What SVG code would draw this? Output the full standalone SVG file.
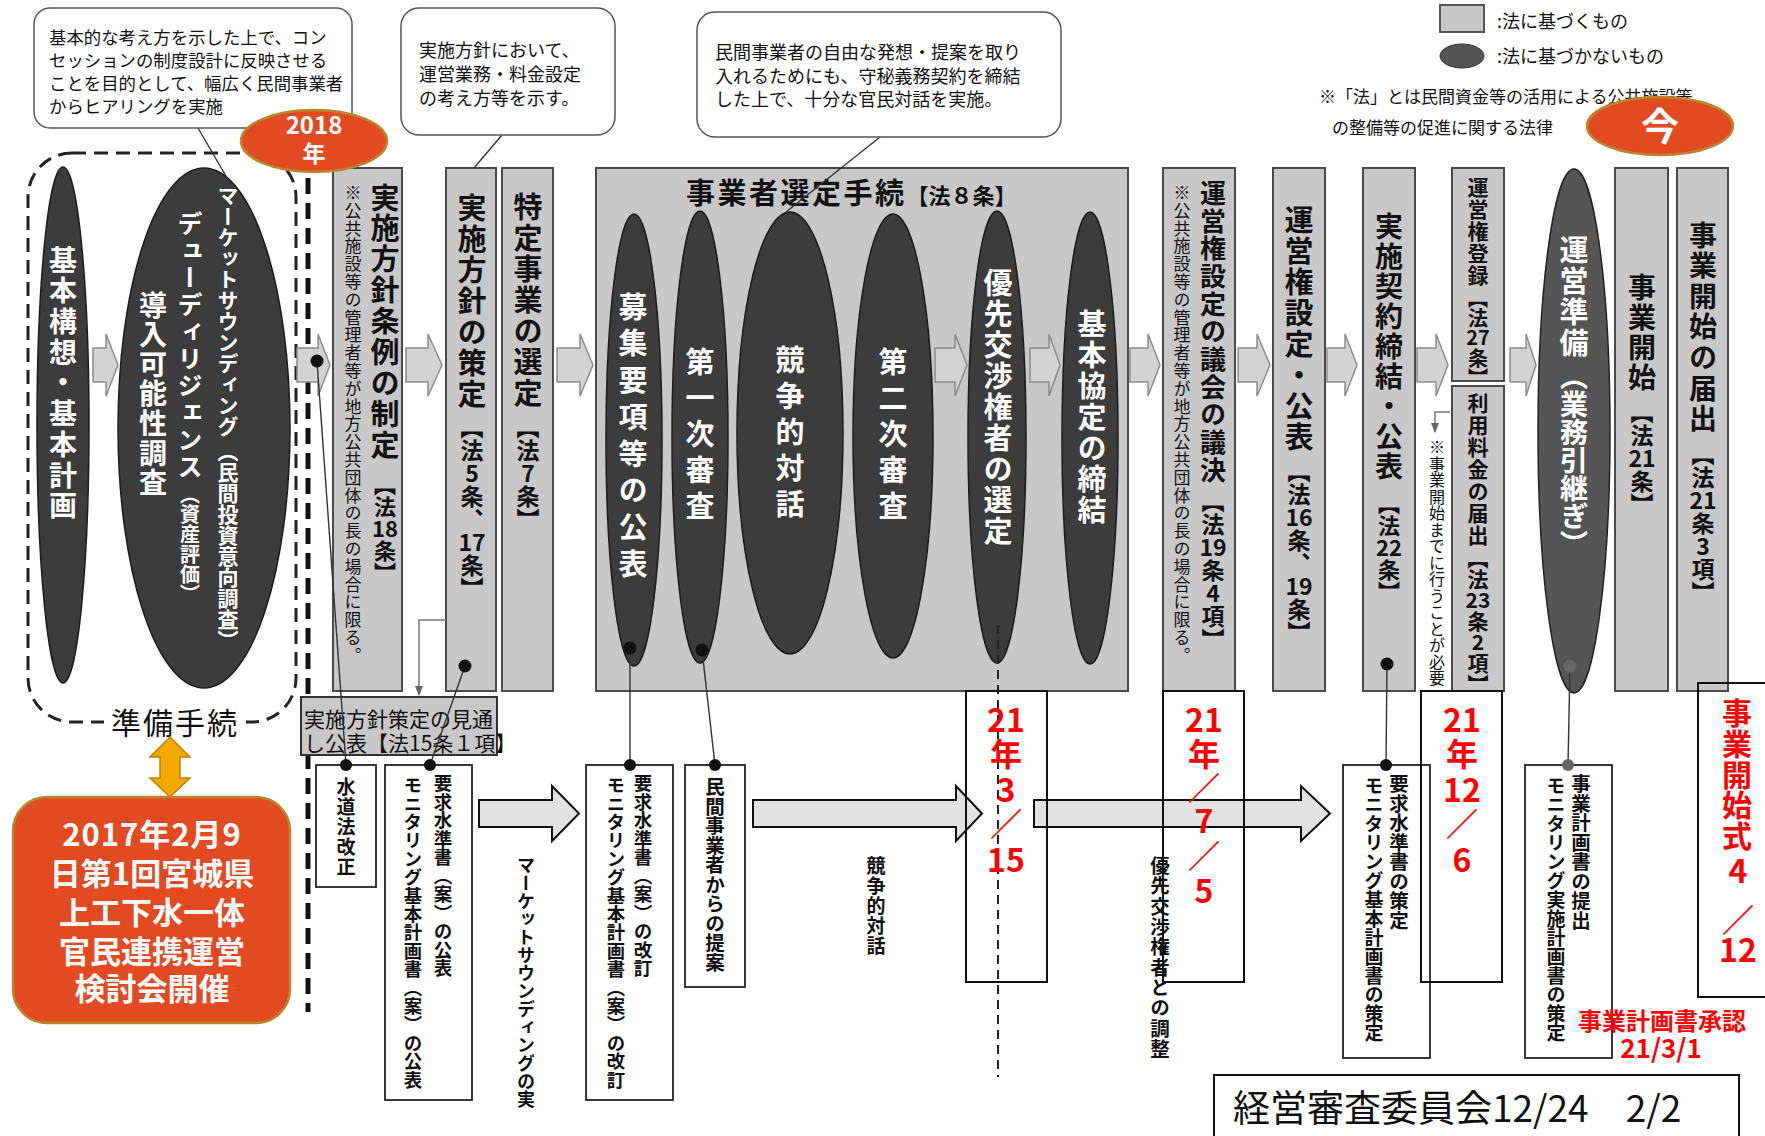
<svg xmlns="http://www.w3.org/2000/svg" width="1765" height="1136" viewBox="0 0 1765 1136">
<defs>
<style>
text{font-family:"Noto Sans CJK JP","Noto Sans",sans-serif;fill:#111}
.v{writing-mode:vertical-rl}
.c{text-anchor:middle}
.b{font-weight:bold}
.w{fill:#fff;font-weight:bold}
.red{fill:#f00;font-weight:bold}
.col{fill:#c8c8c8;stroke:#4a4a4a;stroke-width:2}
.el{fill:#3c3c3c;stroke:#1c1c1c;stroke-width:1.5}
.box{fill:#fff;stroke:#222;stroke-width:1.8}
.dbox{fill:none;stroke:#111;stroke-width:2}
.ar{fill:#d3d3d3;stroke:#8c8c8c;stroke-width:1.5}
.bar{fill:#e2e2e2;stroke:#111;stroke-width:2}
.ln{stroke:#333;stroke-width:1.4;fill:none}
.dot{fill:#111}
.call{fill:#fff;stroke:#555;stroke-width:1.5}
.org{fill:#E24B22;stroke:#B8862E;stroke-width:2.5}
</style>
<marker id="ah" viewBox="0 0 10 10" refX="9" refY="5" markerWidth="7" markerHeight="7" orient="auto"><path d="M0,1 L10,5 L0,9 Z" fill="#666"/></marker>
</defs>
<rect x="0" y="0" width="1765" height="1136" fill="#fff"/>

<!-- preparation group -->
<g id="prep-group">
<rect x="28" y="153" width="268" height="569" rx="44" fill="none" stroke="#222" stroke-width="3" stroke-dasharray="14 8"/>
<line x1="308" y1="153" x2="308" y2="1012" stroke="#111" stroke-width="5" stroke-dasharray="16 9"/>
<rect x="104" y="706" width="142" height="34" fill="#fff"/>
<text class="c" x="175" y="734" font-size="30" letter-spacing="2">準備手続</text>
</g>

<g id="kihon-koso">
<ellipse class="el" cx="63" cy="425" rx="26" ry="258"/>
<text class="v w" x="63" y="246" font-size="28" letter-spacing="2.7">基本構想・基本計画</text>
</g>

<g id="dd-ellipse">
<ellipse class="el" cx="204" cy="428" rx="86" ry="260"/>
<text class="v w" x="153" y="291" font-size="28" letter-spacing="1.6">導入可能性調査</text>
<text class="v w" x="190" y="211" font-size="25" letter-spacing="2">デューディリジェンス</text>
<text class="v w" x="190" y="484" font-size="20">（資産評価）</text>
<text class="v w" x="228" y="185" font-size="21">マーケットサウンディング</text>
<text class="v w" x="228" y="441" font-size="21">（民間投資意向調査）</text>
</g>

<!-- columns -->
<g id="col-jourei">
<rect class="col" x="333" y="168" width="69" height="523"/>
<text class="v b" x="385" y="183" font-size="29" letter-spacing="1.9">実施方針条例の制定</text>
<text class="v b" x="385" y="474" font-size="22">【法</text>
<text class="c b" x="385" y="537" font-size="22">18</text>
<text class="v b" x="385" y="540" font-size="22">条】</text>
<text class="v" x="353" y="184" font-size="17" letter-spacing="0.8">※公共施設等の管理者等が地方公共団体の長の場合に限る。</text>
</g>

<g id="col-houshin">
<rect class="col" x="446" y="168" width="50" height="523"/>
<text class="v b" x="472" y="193" font-size="29" letter-spacing="2">実施方針の策定</text>
<text class="v b" x="472" y="416" font-size="23">【法</text>
<text class="c b" x="472" y="482" font-size="23">5</text>
<text class="v b" x="472" y="485" font-size="23">条、</text>
<text class="c b" x="472" y="551" font-size="23">17</text>
<text class="v b" x="472" y="554" font-size="23">条】</text>
</g>

<g id="col-tokutei">
<rect class="col" x="502" y="168" width="51" height="523"/>
<text class="v b" x="528" y="192" font-size="29" letter-spacing="2">特定事業の選定</text>
<text class="v b" x="528" y="416" font-size="23">【法</text>
<text class="c b" x="528" y="482" font-size="23">7</text>
<text class="v b" x="528" y="485" font-size="23">条】</text>
</g>

<g id="selection">
<rect class="col" x="596" y="168" width="532" height="523"/>
<text class="b" x="686" y="204" font-size="29" letter-spacing="2.5">事業者選定手続<tspan font-size="22" letter-spacing="0">【法８条】</tspan></text>
<g id="boshu">
<ellipse class="el" cx="634" cy="440" rx="28" ry="226"/>
<text class="v w" x="633" y="292" font-size="29" letter-spacing="7.75">募集要項等の公表</text>
</g>
<g id="shinsa1">
<ellipse class="el" cx="700" cy="437" rx="28" ry="226"/>
<text class="v w" x="700" y="347" font-size="29" letter-spacing="7">第一次審査</text>
</g>
<g id="taiwa">
<ellipse class="el" cx="790" cy="433" rx="53" ry="221"/>
<text class="v w" x="790" y="345" font-size="29" letter-spacing="7">競争的対話</text>
</g>
<g id="shinsa2">
<ellipse class="el" cx="893" cy="436" rx="40" ry="222"/>
<text class="v w" x="893" y="347" font-size="29" letter-spacing="7">第二次審査</text>
</g>
<g id="yusen">
<ellipse class="el" cx="997" cy="437" rx="29" ry="226"/>
<text class="v w" x="998" y="268" font-size="29" letter-spacing="2">優先交渉権者の選定</text>
</g>
<g id="kyotei">
<ellipse class="el" cx="1090" cy="438" rx="28" ry="226"/>
<text class="v w" x="1092" y="309" font-size="29" letter-spacing="2">基本協定の締結</text>
</g>
</g>

<g id="col-gikai">
<rect class="col" x="1163" y="168" width="72" height="523"/>
<text class="v b" x="1213" y="180" font-size="26" letter-spacing="1.7">運営権設定の議会の議決</text>
<text class="v b" x="1213" y="490" font-size="23">【法</text>
<text class="c b" x="1213" y="556" font-size="23">19</text>
<text class="v b" x="1213" y="559" font-size="23">条</text>
<text class="c b" x="1213" y="602" font-size="23">4</text>
<text class="v b" x="1213" y="605" font-size="23">項】</text>
<text class="v" x="1182" y="184" font-size="17" letter-spacing="0.8">※公共施設等の管理者等が地方公共団体の長の場合に限る。</text>
</g>

<g id="col-settei">
<rect class="col" x="1273" y="168" width="52" height="523"/>
<text class="v b" x="1299" y="205" font-size="29" letter-spacing="2">運営権設定・公表</text>
<text class="v b" x="1299" y="460" font-size="23">【法</text>
<text class="c b" x="1299" y="526" font-size="23">16</text>
<text class="v b" x="1299" y="529" font-size="23">条、</text>
<text class="c b" x="1299" y="595" font-size="23">19</text>
<text class="v b" x="1299" y="598" font-size="23">条】</text>
</g>

<g id="col-keiyaku">
<rect class="col" x="1363" y="168" width="52" height="523"/>
<text class="v b" x="1389" y="212" font-size="28" letter-spacing="2">実施契約締結・公表</text>
<text class="v b" x="1389" y="493" font-size="22">【法</text>
<text class="c b" x="1389" y="556" font-size="22">22</text>
<text class="v b" x="1389" y="559" font-size="22">条】</text>
</g>

<g id="col-touroku">
<rect class="col" x="1452" y="168" width="52" height="213"/>
<text class="v b" x="1478" y="177" font-size="21" letter-spacing="1">運営権登録</text>
<text class="v b" x="1478" y="288" font-size="20">【法</text>
<text class="c b" x="1478" y="345" font-size="20">27</text>
<text class="v b" x="1478" y="348" font-size="20">条】</text>
</g>

<g id="col-ryokin">
<rect class="col" x="1452" y="386" width="52" height="305"/>
<text class="v b" x="1478" y="393" font-size="21" letter-spacing="1">利用料金の届出</text>
<text class="v b" x="1478" y="548" font-size="21">【法</text>
<text class="c b" x="1478" y="608" font-size="21">23</text>
<text class="v b" x="1478" y="611" font-size="21">条</text>
<text class="c b" x="1478" y="650" font-size="21">2</text>
<text class="v b" x="1478" y="653" font-size="21">項】</text>
</g>

<g id="unei-junbi">
<ellipse cx="1574" cy="431" rx="36" ry="262" fill="#555" stroke="#222" stroke-width="1.5"/>
<text class="v w" x="1574" y="235" font-size="29" letter-spacing="2">運営準備</text>
<text class="v w" x="1574" y="362" font-size="28">（業務引継ぎ）</text>
</g>

<g id="col-kaishi">
<rect class="col" x="1615" y="168" width="53" height="523"/>
<text class="v b" x="1642" y="273" font-size="28" letter-spacing="2">事業開始</text>
<text class="v b" x="1642" y="401" font-size="23">【法</text>
<text class="c b" x="1642" y="467" font-size="23">21</text>
<text class="v b" x="1642" y="470" font-size="23">条】</text>
</g>

<g id="col-todokede">
<rect class="col" x="1677" y="168" width="51" height="523"/>
<text class="v b" x="1703" y="221" font-size="28" letter-spacing="2.6">事業開始の届出</text>
<text class="v b" x="1703" y="443" font-size="23">【法</text>
<text class="c b" x="1703" y="509" font-size="23">21</text>
<text class="v b" x="1703" y="512" font-size="23">条</text>
<text class="c b" x="1703" y="555" font-size="23">3</text>
<text class="v b" x="1703" y="558" font-size="23">項】</text>
</g>

<g id="note-hitsuyo">
<text class="v" x="1437" y="439" font-size="16" letter-spacing="0.5">※事業開始までに行うことが必要</text>
</g>

<g id="mitoshi">
<rect x="301" y="697" width="196" height="58" fill="#c8c8c8" stroke="#333" stroke-width="2"/>
<text x="304" y="727" font-size="21">実施方針策定の見通</text>
<text x="304" y="751" font-size="21">し公表【法15条１項】</text>
</g>

<!-- bottom boxes -->
<g id="box-suido">
<rect class="box" x="316" y="765" width="60" height="122"/>
<text class="v b" x="346" y="777" font-size="19" letter-spacing="1">水道法改正</text>
</g>
<g id="box-kohyo">
<rect class="box" x="385" y="765" width="87" height="335"/>
<text class="v b" x="443" y="774" font-size="18.5">要求水準書（案）の公表</text>
<text class="v b" x="413" y="776" font-size="18.4">モニタリング基本計画書（案）の公表</text>
</g>
<g id="box-kaitei">
<rect class="box" x="586" y="765" width="87" height="335"/>
<text class="v b" x="643" y="774" font-size="18.5">要求水準書（案）の改訂</text>
<text class="v b" x="616" y="776" font-size="18.4">モニタリング基本計画書（案）の改訂</text>
</g>
<g id="box-teian">
<rect class="box" x="685" y="765" width="60" height="222"/>
<text class="v b" x="715" y="777" font-size="19.5">民間事業者からの提案</text>
</g>
<g id="box-sakutei">
<rect class="box" x="1343" y="765" width="87" height="293"/>
<text class="v b" x="1399" y="774" font-size="19.5">要求水準書の策定</text>
<text class="v b" x="1374" y="776" font-size="19">モニタリング基本計画書の策定</text>
</g>
<g id="box-keikaku">
<rect class="box" x="1525" y="765" width="87" height="293"/>
<text class="v b" x="1581" y="774" font-size="19.5">事業計画書の提出</text>
<text class="v b" x="1556" y="776" font-size="19">モニタリング実施計画書の策定</text>
</g>

<!-- connectors -->
<g id="connectors">
<path class="ar" d="M93,348H106V334L118,365L106,396V382H93Z"/>
<path class="ar" d="M297,348H318V334L330,365L318,396V382H297Z"/>
<path class="ar" d="M406,348H428V334L442,365L428,396V382H406Z"/>
<path class="ar" d="M557,348H580V334L593,365L580,396V382H557Z"/>
<path class="ar" d="M935,348H955V334L967,365L955,396V382H935Z"/>
<path class="ar" d="M1030,348H1049V334L1060,365L1049,396V382H1030Z"/>
<path class="ar" d="M1130,348H1148V334L1160,365L1148,396V382H1130Z"/>
<path class="ar" d="M1238,348H1257V334L1270,365L1257,396V382H1238Z"/>
<path class="ar" d="M1327,348H1345V334L1357,365L1345,396V382H1327Z"/>
<path class="ar" d="M1417,348H1436V334L1448,365L1436,396V382H1417Z"/>
<path class="ar" d="M1510,348H1526V334L1536,365L1526,396V382H1510Z"/>
<path class="bar" d="M479,800H552V786L579,813.5L552,841V827H479Z"/>
<path class="bar" d="M753,800H956V786L982,813.5L956,841V827H753Z"/>
<path class="bar" d="M1034,800H1301V786L1330,813.5L1301,841V827H1034Z"/>
<path d="M446,620H419V695" fill="none" stroke="#777" stroke-width="1.5" marker-end="url(#ah)"/>
<path d="M1450,412H1435V432" fill="none" stroke="#777" stroke-width="1.5" marker-end="url(#ah)"/>
<line class="ln" x1="198" y1="128" x2="230" y2="183"/>
<line class="ln" x1="502" y1="135" x2="474" y2="168"/>
<line class="ln" x1="880" y1="137" x2="786" y2="212"/>
<line class="ln" x1="317" y1="361" x2="346" y2="765"/>
<line class="ln" x1="465" y1="666" x2="430" y2="765"/>
<line class="ln" x1="630" y1="648" x2="630" y2="765"/>
<line class="ln" x1="702" y1="650" x2="715" y2="765"/>
<line class="ln" x1="1387" y1="664" x2="1386" y2="765"/>
<line class="ln" x1="1570" y1="666" x2="1568" y2="765"/>
<line x1="998" y1="625" x2="998" y2="1077" stroke="#222" stroke-width="2" stroke-dasharray="9 6"/>
<circle class="dot" cx="317" cy="361" r="6.5"/>
<circle class="dot" cx="465" cy="666" r="6.5"/>
<circle class="dot" cx="630" cy="648" r="6.5"/>
<circle class="dot" cx="702" cy="650" r="6.5"/>
<circle class="dot" cx="1387" cy="664" r="6.5"/>
<circle cx="1570" cy="666" r="6.5" fill="#666"/>
<circle class="dot" cx="346" cy="765" r="6"/>
<circle class="dot" cx="430" cy="765" r="6"/>
<circle class="dot" cx="630" cy="765" r="6"/>
<circle class="dot" cx="715" cy="765" r="6"/>
<circle class="dot" cx="1386" cy="765" r="6"/>
<circle cx="1568" cy="765" r="6" fill="#666"/>
<path d="M170,737L190,757H180V778H190L170,797L150,778H160V757H150Z" fill="#F2A900" stroke="#C08000" stroke-width="1.5"/>
<text class="v b" x="526" y="856" font-size="18">マーケットサウンディングの実</text>
<text class="v b" x="876" y="856" font-size="19" letter-spacing="1">競争的対話</text>
<text class="v b" x="1160" y="856" font-size="19.5" letter-spacing="0.8">優先交渉権者との調整</text>
</g>

<!-- date boxes -->
<g id="date1">
<rect class="dbox" x="966" y="691" width="81" height="291"/>
<text class="red c" font-size="32"><tspan x="1006" y="732">21</tspan><tspan x="1006" y="766">年</tspan><tspan x="1006" y="802">3</tspan><tspan x="1006" y="836">／</tspan><tspan x="1006" y="872">15</tspan></text>
</g>
<g id="date2">
<rect class="dbox" x="1163" y="691" width="81" height="291"/>
<text class="red c" font-size="32"><tspan x="1204" y="732">21</tspan><tspan x="1204" y="766">年</tspan><tspan x="1204" y="800">／</tspan><tspan x="1204" y="833">7</tspan><tspan x="1204" y="868">／</tspan><tspan x="1204" y="903">5</tspan></text>
</g>
<g id="date3">
<rect class="dbox" x="1421" y="691" width="81" height="291"/>
<text class="red c" font-size="32"><tspan x="1462" y="732">21</tspan><tspan x="1462" y="766">年</tspan><tspan x="1462" y="802">12</tspan><tspan x="1462" y="836">／</tspan><tspan x="1462" y="872">6</tspan></text>
</g>
<g id="date-kaishi">
<rect class="dbox" x="1698" y="683" width="80" height="314"/>
<text class="v red" x="1737" y="698" font-size="30" letter-spacing="0.6">事業開始式</text>
<text class="red c" font-size="32"><tspan x="1738" y="883">4</tspan><tspan x="1738" y="932">／</tspan><tspan x="1738" y="962">12</tspan></text>
</g>
<g id="approve">
<text class="red" x="1578" y="1030" font-size="24">事業計画書承認</text>
<text class="red c" x="1661" y="1058" font-size="26">21/3/1</text>
</g>

<g id="footer">
<rect x="1214" y="1075" width="525" height="70" fill="#fff" stroke="#111" stroke-width="2"/>
<text x="1233" y="1122" font-size="37">経営審査委員会12/24　2/2</text>
</g>

<g id="orange-box">
<rect class="org" x="13" y="797" width="277" height="226" rx="34"/>
<text class="c w" font-size="31"><tspan x="152" y="846" letter-spacing="1">2017年2月9</tspan><tspan x="152" y="885">日第1回宮城県</tspan><tspan x="152" y="924">上工下水一体</tspan><tspan x="152" y="963">官民連携運営</tspan><tspan x="152" y="1000">検討会開催</tspan></text>
</g>

<!-- callouts -->
<g id="callout1">
<rect class="call" x="34" y="8" width="318" height="120" rx="16"/>
<text font-size="17.4"><tspan x="49" y="44">基本的な考え方を示した上で、コン</tspan><tspan x="49" y="67">セッションの制度設計に反映させる</tspan><tspan x="49" y="90">ことを目的として、幅広く民間事業者</tspan><tspan x="49" y="113">からヒアリングを実施</tspan></text>
</g>
<g id="callout2">
<rect class="call" x="401" y="8" width="214" height="127" rx="18"/>
<text font-size="18"><tspan x="419" y="57">実施方針において、</tspan><tspan x="419" y="81">運営業務・料金設定</tspan><tspan x="419" y="105">の考え方等を示す。</tspan></text>
</g>
<g id="callout3">
<rect class="call" x="697" y="12" width="364" height="125" rx="18"/>
<text font-size="18"><tspan x="715" y="59">民間事業者の自由な発想・提案を取り</tspan><tspan x="715" y="83">入れるためにも、守秘義務契約を締結</tspan><tspan x="715" y="106">した上で、十分な官民対話を実施。</tspan></text>
</g>

<g id="legend">
<rect x="1440" y="5" width="44" height="27" fill="#c8c8c8" stroke="#555" stroke-width="2"/>
<text x="1497" y="28" font-size="18">:法に基づくもの</text>
<ellipse cx="1462" cy="56" rx="22" ry="12" fill="#555" stroke="#333"/>
<text x="1497" y="63" font-size="18">:法に基づかないもの</text>
<text x="1319" y="103" font-size="17">※「法」とは民間資金等の活用による公共施設等</text>
<text x="1332" y="134" font-size="17">の整備等の促進に関する法律</text>
</g>

<g id="badge-2018">
<ellipse class="org" cx="314" cy="141" rx="73" ry="31"/>
<text class="c w" x="314" y="134" font-size="24">2018</text>
<text class="c w" x="314" y="162" font-size="23">年</text>
</g>
<g id="badge-now">
<ellipse class="org" cx="1660" cy="126" rx="73" ry="29"/>
<text class="c w" x="1660" y="140" font-size="38">今</text>
</g>
</svg>
